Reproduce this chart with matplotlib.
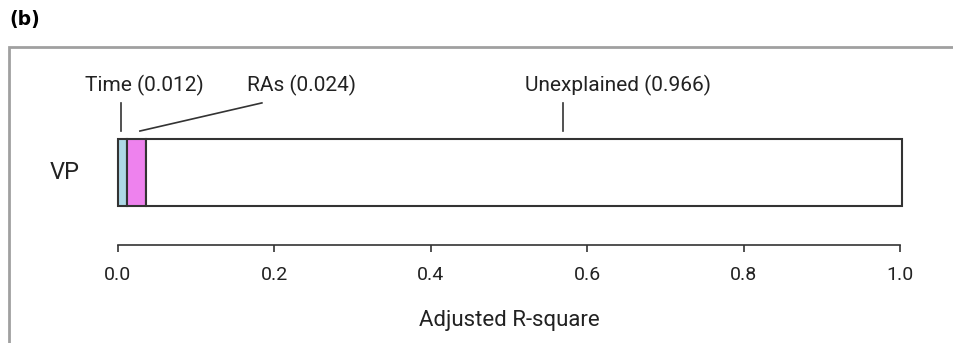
import matplotlib.pyplot as plt
from matplotlib.patches import Rectangle

components = ["Time", "RAs", "Unexplained"]
fractions = [0.012, 0.024, 0.966]
colors = ["#add8e6", "#ee82ee", "white"]
row_label = "VP"
ticks = [0.0, 0.2, 0.4, 0.6, 0.8, 1.0]
# where each annotation text sits and where its pointer line ends
label_x = [0.034, 0.235, 0.64]
line_top_x = [0.004, 0.184, 0.569]
line_bot_x = [0.004, 0.028, 0.569]

plt.rcParams['font.family'] = ['Roboto', 'DejaVu Sans']

fig = plt.figure(figsize=(9.54, 3.43), dpi=100)
W, H = 954, 343

# grey frame around the panel
fig.add_artist(Rectangle((9 / W, -0.05), 1.0, (H - 47) / H + 0.05,
                         transform=fig.transFigure, fill=False,
                         edgecolor="#a0a0a0", linewidth=2))
fig.text(9 / W, 1 - 20 / H, "(b)", fontsize=13.5, fontweight="bold",
         va="center", ha="left", family=["DejaVu Sans"])

ax = fig.add_axes([118 / W, 98 / H, 782 / W, 185 / H])
ax.set_xlim(0, 1)
ax.set_ylim(0, 1)

left = 0.0
for frac, col in zip(fractions, colors):
    bars = ax.barh(0.392, frac, height=0.362, left=left, color=col,
                   edgecolor="#333333", linewidth=1.5)
    for b in bars:
        b.set_clip_on(False)
    left += frac

for name, frac, tx, xt, xb in zip(components, fractions, label_x, line_top_x, line_bot_x):
    ax.text(tx, 0.865, f"{name} ({frac:.3f})", ha="center", va="center",
            fontsize=15, color="#222222", clip_on=False)
    ax.plot([xt, xb], [0.768, 0.616], color="#333333", linewidth=1.2,
            clip_on=False)

ax.text(-0.068, 0.392, row_label, ha="center", va="center", fontsize=17,
        color="#222222")

for s in ["top", "right", "left"]:
    ax.spines[s].set_visible(False)
ax.spines["bottom"].set_bounds(0, 1)
ax.spines["bottom"].set_color("#333333")
ax.spines["bottom"].set_linewidth(1.2)
ax.set_yticks([])
ax.set_xticks(ticks)
ax.set_xticklabels([f"{t:.1f}" for t in ticks])
ax.tick_params(axis="x", length=5, width=1.2, color="#333333",
               labelsize=14, labelcolor="#222222", pad=10)
ax.set_xlabel("Adjusted R-square", fontsize=16, color="#222222", labelpad=19)

fig.savefig("out.png", dpi=100)
